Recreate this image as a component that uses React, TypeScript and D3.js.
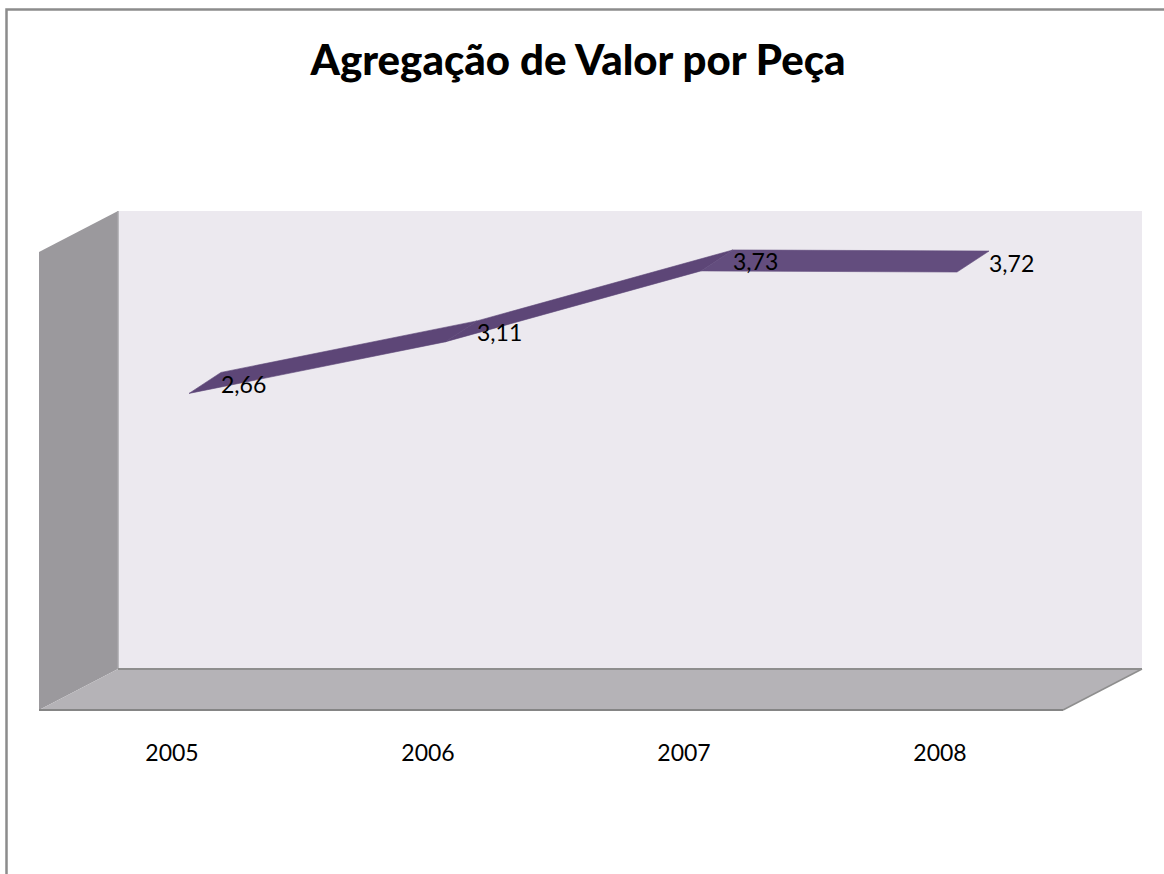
import React from "react";
import * as d3 from "d3";

const categories = ["2005", "2006", "2007", "2008"];
const values = [2.66, 3.11, 3.73, 3.72];
const valueLabels = ["2,66", "3,11", "3,73", "3,72"];
const title = "Agregação de Valor por Peça";

const W = 1164;
const H = 874;
const front = { left: 39, right: 1063, top: 252, bottom: 710 };
const depth = { dx: 79, dy: -41 };
const ribbonFrontOff: [number, number] = [22, -12];
const ribbonBackOff: [number, number] = [54, -33];

export default function App() {
  const x = d3.scaleBand<string>().domain(categories).range([front.left, front.right]);
  const y = d3.scaleLinear().domain([0, 4]).range([front.bottom, front.top]);
  const cx = (c: string) => (x(c) as number) + x.bandwidth() / 2;

  const pt = (i: number, off: [number, number]): [number, number] => [
    cx(categories[i]) + off[0],
    y(values[i]) + off[1],
  ];
  const midOff: [number, number] = [
    (ribbonFrontOff[0] + ribbonBackOff[0]) / 2,
    (ribbonFrontOff[1] + ribbonBackOff[1]) / 2,
  ];

  const segs = d3.range(values.length - 1).map((i) => {
    const poly = [pt(i, ribbonFrontOff), pt(i + 1, ribbonFrontOff), pt(i + 1, ribbonBackOff), pt(i, ribbonBackOff)];
    const flat = Math.abs(values[i + 1] - values[i]) < 0.05;
    return { poly, fill: flat ? "#634d7e" : "#5d4677" };
  });

  const line = d3.line();

  const backWall = [
    [front.left + depth.dx, front.top + depth.dy],
    [front.right + depth.dx, front.top + depth.dy],
    [front.right + depth.dx, front.bottom + depth.dy],
    [front.left + depth.dx, front.bottom + depth.dy],
  ] as [number, number][];
  const sideWall = [
    [front.left, front.top],
    [front.left + depth.dx, front.top + depth.dy],
    [front.left + depth.dx, front.bottom + depth.dy],
    [front.left, front.bottom],
  ] as [number, number][];
  const floor = [
    [front.left, front.bottom],
    [front.left + depth.dx, front.bottom + depth.dy],
    [front.right + depth.dx, front.bottom + depth.dy],
    [front.right, front.bottom],
  ] as [number, number][];

  return (
    <svg width={W} height={H} style={{ position: "absolute", left: 0, top: 0 }}>
      <rect x={0} y={0} width={W} height={H} fill="#ffffff" />
      <rect x={6.5} y={9.5} width={W + 20} height={H + 20} fill="#ffffff" stroke="#8c8c8c" strokeWidth={2.5} />
      <text
        x={578}
        y={75}
        textAnchor="middle"
        fontFamily="Lato, 'Open Sans', sans-serif"
        fontWeight={900}
        fontSize={42}
        fill="#000"
      >
        {title}
      </text>

      <path d={line(backWall) + "Z"} fill="#ece9ef" />
      <path d={line(sideWall) + "Z"} fill="#9b999d" />
      <line x1={front.left + depth.dx} y1={front.top + depth.dy} x2={front.left + depth.dx} y2={front.bottom + depth.dy} stroke="#a9a7ab" strokeWidth={1.5} />
      <path d={line(floor) + "Z"} fill="#b5b3b7" />
      <line x1={front.left + depth.dx} y1={front.bottom + depth.dy} x2={front.right + depth.dx} y2={front.bottom + depth.dy} stroke="#8e8e8e" strokeWidth={2} />
      <line x1={front.left} y1={front.bottom} x2={front.right} y2={front.bottom} stroke="#858585" strokeWidth={2} />
      <line x1={front.right} y1={front.bottom} x2={front.right + depth.dx} y2={front.bottom + depth.dy} stroke="#8e8e8e" strokeWidth={1.5} />

      {segs.map((s, i) => (
        <path key={i} d={line(s.poly) + "Z"} fill={s.fill} stroke={s.fill} strokeWidth={0.6} />
      ))}

      {values.map((v, i) => {
        const [mx, my] = pt(i, midOff);
        return (
          <text
            key={i}
            x={mx + 16}
            y={my + 1}
            dominantBaseline="central"
            fontFamily="Lato, 'Open Sans', sans-serif"
            fontSize={23}
            fill="#000"
          >
            {valueLabels[i]}
          </text>
        );
      })}

      {categories.map((c) => (
        <text
          key={c}
          x={cx(c) + 5}
          y={761}
          textAnchor="middle"
          fontFamily="Lato, 'Open Sans', sans-serif"
          fontSize={23}
          fill="#000"
        >
          {c}
        </text>
      ))}
    </svg>
  );
}
